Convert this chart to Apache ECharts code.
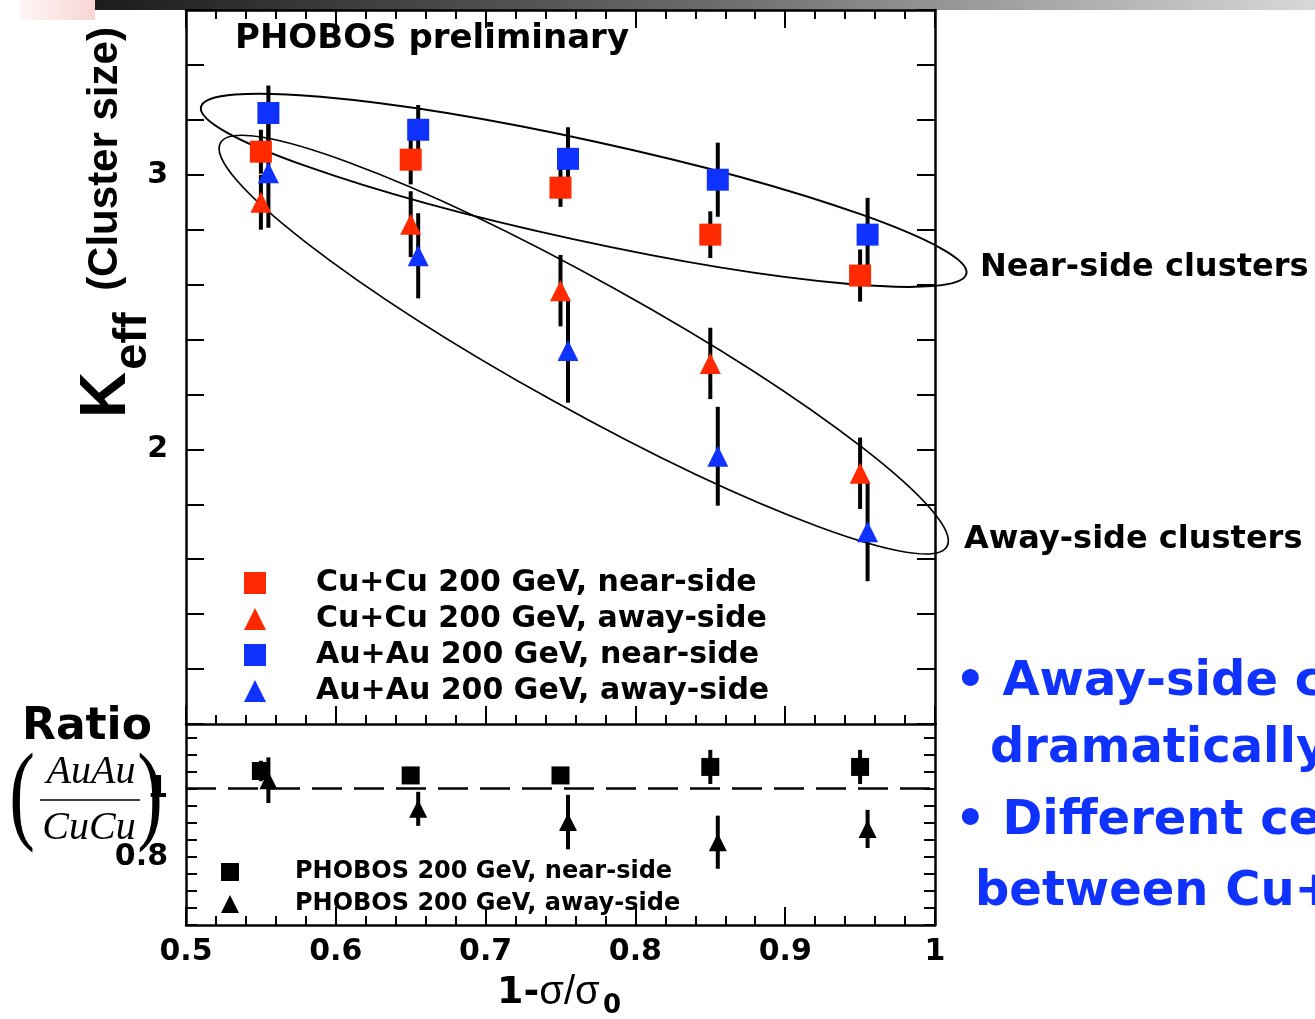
<!DOCTYPE html>
<html>
<head>
<meta charset="utf-8">
<script src="https://cdn.jsdelivr.net/npm/echarts@6.0.0/dist/echarts.min.js"></script>
<style>
  html, body { margin: 0; padding: 0; background: #fff; }
  #chart { width: 1315px; height: 1019px; }
</style>
</head>
<body>
<div id="chart"></div>
<script>
// centrality bins (1 - sigma/sigma0); Au+Au points are drawn slightly shifted
const xCu = [0.55, 0.65, 0.75, 0.85, 0.95];
const xAu = [0.555, 0.655, 0.755, 0.855, 0.955];

// K_eff values, with their error bars
const cuNear = [3.084, 3.055, 2.953, 2.782, 2.633];
const cuNearErr = [0.08, 0.09, 0.07, 0.085, 0.095];
const cuAway = [2.9, 2.82, 2.578, 2.313, 1.913];
const cuAwayErr = [0.1, 0.12, 0.13, 0.13, 0.13];
const auNear = [3.225, 3.164, 3.058, 2.982, 2.782];
const auNearErr = [0.1, 0.09, 0.115, 0.135, 0.134];
const auAway = [3.007, 2.705, 2.36, 1.975, 1.7];
const auAwayErr = [0.2, 0.155, 0.19, 0.18, 0.18];

// AuAu / CuCu ratio panel
const ratioNear = [1.052, 1.039, 1.039, 1.064, 1.064];
const ratioNearErr = [0.03, 0.02, 0.025, 0.05, 0.05];
const ratioAway = [1.025, 0.941, 0.902, 0.843, 0.882];
const ratioAwayErr = [0.067, 0.05, 0.08, 0.078, 0.056];

const mainNames = [
  "Cu+Cu 200 GeV, near-side",
  "Cu+Cu 200 GeV, away-side",
  "Au+Au 200 GeV, near-side",
  "Au+Au 200 GeV, away-side",
];
const ratioNames = ["PHOBOS 200 GeV, near-side", "PHOBOS 200 GeV, away-side"];

// hand-drawn ellipses: the two ends of the long axis, in data units
const ellipseEnds = [
  [0.51, 3.247, 1.021, 2.64],
  [0.523, 3.116, 1.008, 1.647],
];
const ellipseHalfWidth = [50, 64];
const ellipseWidth = [2, 1.7];

const RED = "#ff2a00";
const BLUE = "#0f32ff";
const SANS = '"DejaVu Sans"';

function errBars(xs, ys, errs, axis) {
  return {
    type: "custom",
    xAxisIndex: axis === 0 ? 0 : 2,
    yAxisIndex: axis === 0 ? 0 : 2,
    silent: true,
    data: xs.map((x, i) => [x, ys[i] - errs[i], ys[i] + errs[i]]),
    encode: { x: 0, y: [1, 2] },
    renderItem: (params, api) => {
      const lo = api.coord([api.value(0), api.value(1)]);
      const hi = api.coord([api.value(0), api.value(2)]);
      return {
        type: "line",
        shape: { x1: lo[0], y1: lo[1], x2: hi[0], y2: hi[1] },
        style: { stroke: "#000", lineWidth: 4 },
      };
    },
  };
}

function points(name, xs, ys, symbol, color, size, axis) {
  return {
    type: "scatter",
    name,
    xAxisIndex: axis === 0 ? 0 : 2,
    yAxisIndex: axis === 0 ? 0 : 2,
    symbol,
    symbolSize: size,
    silent: true,
    itemStyle: { color, opacity: 1 },
    data: xs.map((x, i) => [x, ys[i]]),
  };
}

const tickStyle = { color: "#000", width: 2 };
const lineStyle = { color: "#000", width: 2.5 };

function xAxis(grid, pos, labels) {
  return {
    type: "value",
    gridIndex: grid,
    position: pos,
    min: 0.5,
    max: 1,
    interval: 0.1,
    axisLine: { onZero: false, lineStyle },
    axisTick: { inside: true, length: 18, lineStyle: tickStyle },
    minorTick: { show: true, splitNumber: 5, length: 9, lineStyle: tickStyle },
    splitLine: { show: false },
    axisLabel: {
      show: labels,
      margin: 12,
      color: "#000",
      fontFamily: SANS,
      fontWeight: "bold",
      fontSize: 30,
    },
  };
}

function yAxis(grid, pos, min, max, interval, tickLen, shown) {
  return {
    type: "value",
    gridIndex: grid,
    position: pos,
    min,
    max,
    interval,
    axisLine: { show: true, onZero: false, lineStyle },
    axisTick: { inside: true, length: tickLen, lineStyle: tickStyle },
    splitLine: { show: false },
    axisLabel: {
      show: shown.length > 0,
      margin: 18,
      color: "#000",
      fontFamily: SANS,
      fontWeight: "bold",
      fontSize: 30,
      formatter: (v) => {
        const hit = shown.find((s) => Math.abs(s - v) < 1e-6);
        return hit === undefined ? "" : String(hit);
      },
    },
  };
}

const chart = echarts.init(document.getElementById("chart"));

const option = {
  animation: false,
  backgroundColor: "#fff",
  grid: [
    { left: 186, top: 10, width: 749, height: 714 },
    { left: 186, top: 724, width: 749, height: 201 },
  ],
  xAxis: [
    xAxis(0, "bottom", false),
    xAxis(0, "top", false),
    xAxis(1, "bottom", true),
  ],
  yAxis: [
    yAxis(0, "left", 1, 3.6, 0.2, 18, [2, 3]),
    yAxis(0, "right", 1, 3.6, 0.2, 18, []),
    yAxis(1, "left", 0.6, 1.19, 0.05, 11, [1, 0.8]),
    yAxis(1, "right", 0.6, 1.19, 0.05, 11, []),
  ],
  legend: [
    {
      data: mainNames.map((n, i) => ({ name: n, icon: i % 2 ? "triangle" : "rect" })),
      orient: "vertical",
      left: 244,
      top: 565,
      padding: 0,
      itemWidth: 22,
      itemHeight: 22,
      itemGap: 0,
      selectedMode: false,
      textStyle: {
        fontFamily: SANS,
        fontWeight: "bold",
        fontSize: 30,
        lineHeight: 36,
        color: "#000",
        padding: [0, 0, 0, 45],
      },
    },
    {
      data: ratioNames.map((n, i) => ({ name: n, icon: i % 2 ? "triangle" : "rect" })),
      orient: "vertical",
      left: 221,
      top: 856,
      padding: 0,
      itemWidth: 18,
      itemHeight: 18,
      itemGap: 0,
      selectedMode: false,
      textStyle: {
        fontFamily: SANS,
        fontWeight: "bold",
        fontSize: 24,
        lineHeight: 32,
        color: "#000",
        padding: [0, 0, 0, 51],
      },
    },
  ],
  series: [
    errBars(xCu, cuNear, cuNearErr, 0),
    points(mainNames[0], xCu, cuNear, "rect", RED, 22, 0),
    errBars(xCu, cuAway, cuAwayErr, 0),
    points(mainNames[1], xCu, cuAway, "triangle", RED, 21, 0),
    errBars(xAu, auNear, auNearErr, 0),
    points(mainNames[2], xAu, auNear, "rect", BLUE, 22, 0),
    errBars(xAu, auAway, auAwayErr, 0),
    points(mainNames[3], xAu, auAway, "triangle", BLUE, 21, 0),

    errBars(xCu, ratioNear, ratioNearErr, 1),
    Object.assign(points(ratioNames[0], xCu, ratioNear, "rect", "#000", 18, 1), {
      markLine: {
        silent: true,
        symbol: "none",
        label: { show: false },
        lineStyle: { type: [30, 12], color: "#000", width: 2.5 },
        data: [{ yAxis: 1 }],
      },
    }),
    errBars(xAu, ratioAway, ratioAwayErr, 1),
    points(ratioNames[1], xAu, ratioAway, "triangle", "#000", 18, 1),

    {
      type: "custom",
      xAxisIndex: 0,
      yAxisIndex: 0,
      silent: true,
      clip: false,
      data: ellipseEnds,
      encode: { x: [0, 2], y: [1, 3] },
      renderItem: (params, api) => {
        const a = api.coord([api.value(0), api.value(1)]);
        const b = api.coord([api.value(2), api.value(3)]);
        const dx = b[0] - a[0];
        const dy = b[1] - a[1];
        return {
          type: "ellipse",
          x: (a[0] + b[0]) / 2,
          y: (a[1] + b[1]) / 2,
          rotation: -Math.atan2(dy, dx),
          shape: { cx: 0, cy: 0, rx: Math.hypot(dx, dy) / 2, ry: ellipseHalfWidth[params.dataIndex] },
          style: { fill: "none", stroke: "#000", lineWidth: ellipseWidth[params.dataIndex] },
        };
      },
    },
  ],
  graphic: [
    {
      type: "rect",
      x: 95,
      y: 0,
      shape: { width: 1220, height: 10 },
      style: {
        fill: new echarts.graphic.LinearGradient(0, 0, 1, 0, [
          { offset: 0, color: "#1c1c1c" },
          { offset: 0.5, color: "#6a6a6a" },
          { offset: 1, color: "#d8d8d8" },
        ]),
      },
    },
    {
      type: "rect",
      x: 20,
      y: 0,
      shape: { width: 75, height: 20 },
      style: {
        fill: new echarts.graphic.LinearGradient(0, 0, 1, 0, [
          { offset: 0, color: "#fff6f6" },
          { offset: 1, color: "#f8d4d4" },
        ]),
      },
    },
    {
      type: "text",
      x: 235,
      y: 39,
      style: { text: "PHOBOS preliminary", font: 'bold 34px "DejaVu Sans"', fill: "#000", verticalAlign: "middle" },
    },
    // y axis title, rotated
    {
      type: "text",
      x: 105,
      y: 159,
      rotation: Math.PI / 2,
      style: { text: "(Cluster size)", font: 'bold 42px "Liberation Sans"', fill: "#000", align: "center", verticalAlign: "middle" },
    },
    {
      type: "text",
      x: 107,
      y: 395,
      rotation: Math.PI / 2,
      style: { text: "K", font: 'bold 64px "Liberation Sans"', fill: "#000", align: "center", verticalAlign: "middle" },
    },
    {
      type: "text",
      x: 133,
      y: 341,
      rotation: Math.PI / 2,
      style: { text: "eff", font: 'bold 47px "Liberation Sans"', fill: "#000", align: "center", verticalAlign: "middle" },
    },
    // ratio label
    {
      type: "text",
      x: 22,
      y: 728,
      style: { text: "Ratio", font: 'bold 44px "DejaVu Sans"', fill: "#000", verticalAlign: "middle" },
    },
    {
      type: "text",
      x: 22,
      y: 800,
      scaleX: 0.7,
      style: { text: "(", font: '110px "Liberation Serif"', fill: "#000", align: "center", verticalAlign: "middle" },
    },
    {
      type: "text",
      x: 150,
      y: 800,
      scaleX: 0.7,
      style: { text: ")", font: '110px "Liberation Serif"', fill: "#000", align: "center", verticalAlign: "middle" },
    },
    {
      type: "text",
      x: 91,
      y: 772,
      style: { text: "AuAu", font: 'italic 40px "Liberation Serif"', fill: "#000", align: "center", verticalAlign: "middle" },
    },
    {
      type: "line",
      shape: { x1: 40, y1: 800, x2: 140, y2: 800 },
      style: { stroke: "#000", lineWidth: 1.5 },
    },
    {
      type: "text",
      x: 89,
      y: 828,
      style: { text: "CuCu", font: 'italic 40px "Liberation Serif"', fill: "#000", align: "center", verticalAlign: "middle" },
    },
    // x axis title
    {
      type: "text",
      x: 497,
      y: 993,
      style: {
        text: "{a|1-}{b|σ/σ}",
        verticalAlign: "middle",
        rich: {
          a: { font: 'bold 38px "DejaVu Sans"', fill: "#000" },
          b: { font: '40px "Liberation Sans"', fill: "#000" },
        },
      },
    },
    {
      type: "text",
      x: 603,
      y: 1006,
      style: { text: "0", font: 'bold 26px "DejaVu Sans"', fill: "#000", verticalAlign: "middle" },
    },
    // annotations right of the plot
    {
      type: "text",
      x: 980,
      y: 268,
      style: { text: "Near-side clusters", font: 'bold 32px "DejaVu Sans"', fill: "#000", verticalAlign: "middle" },
    },
    {
      type: "text",
      x: 964,
      y: 540,
      style: { text: "Away-side clusters", font: 'bold 32px "DejaVu Sans"', fill: "#000", verticalAlign: "middle" },
    },
    {
      type: "text",
      x: 955,
      y: 683,
      style: { text: "• Away-side clusters", font: 'bold 48px "DejaVu Sans"', fill: BLUE, verticalAlign: "middle" },
    },
    {
      type: "text",
      x: 990,
      y: 750,
      style: { text: "dramatically", font: 'bold 48px "DejaVu Sans"', fill: BLUE, verticalAlign: "middle" },
    },
    {
      type: "text",
      x: 955,
      y: 822,
      style: { text: "• Different centrality", font: 'bold 48px "DejaVu Sans"', fill: BLUE, verticalAlign: "middle" },
    },
    {
      type: "text",
      x: 975,
      y: 893,
      style: { text: "between Cu+Cu", font: 'bold 48px "DejaVu Sans"', fill: BLUE, verticalAlign: "middle" },
    },
  ],
};

chart.setOption(option);
</script>
</body>
</html>
